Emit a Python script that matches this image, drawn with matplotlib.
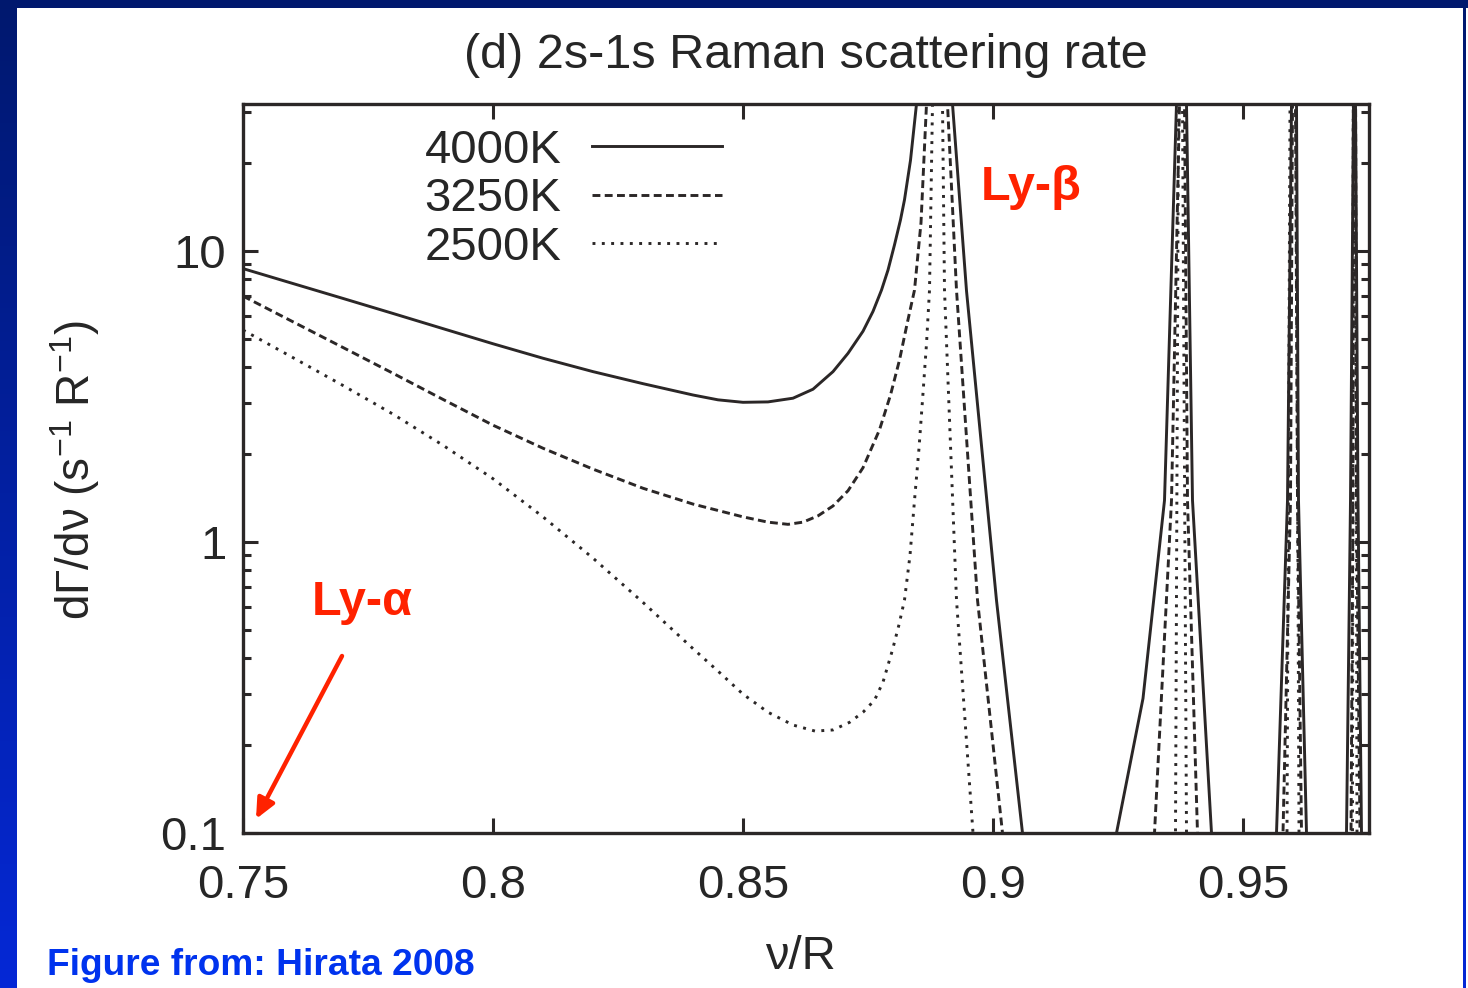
import numpy as np
import matplotlib
matplotlib.use("Agg")
import matplotlib.pyplot as plt
from matplotlib.lines import Line2D

plt.rcParams['font.family'] = ['Liberation Sans', 'DejaVu Sans']
plt.rcParams['mathtext.fontset'] = 'custom'
plt.rcParams['mathtext.rm'] = 'Liberation Sans'
plt.rcParams['mathtext.it'] = 'Liberation Sans:italic'
plt.rcParams['mathtext.bf'] = 'Liberation Sans:bold'

# ---------------- data ----------------
nu_4000 = [0.750, 0.760, 0.770, 0.780, 0.790, 0.800, 0.810, 0.820, 0.830, 0.840,
           0.845, 0.850, 0.855, 0.860, 0.864, 0.868, 0.871, 0.874, 0.876, 0.8777,
           0.879, 0.8803, 0.8815, 0.8823, 0.8835, 0.8847,
           0.8889, 0.8919, 0.8947, 0.9007, 0.9059, 0.915,
           0.9247, 0.9300, 0.9343, 0.9367, 0.9375, 0.9387, 0.9399, 0.9437, 0.950,
           0.9567, 0.9589, 0.9597, 0.9600, 0.9607, 0.9611, 0.9627, 0.966,
           0.9707, 0.9715, 0.9721, 0.9722, 0.9725, 0.9730, 0.9737, 0.975]
rate_4000 = [8.70, 7.73, 6.87, 6.10, 5.41, 4.80, 4.28, 3.85, 3.50, 3.20,
             3.08, 3.02, 3.03, 3.12, 3.35, 3.85, 4.45, 5.30, 6.20, 7.34,
             8.6, 10.5, 12.8, 15.0, 20.5, 32.0,
             1e4, 32.0, 7.3, 0.63, 0.1, 0.01,
             0.1, 0.29, 1.39, 32.0, 1e4, 32.0, 1.39, 0.1, 0.01,
             0.1, 1.39, 32.0, 1e4, 32.0, 1.39, 0.1, 0.01,
             0.1, 1.39, 32.0, 1e4, 32.0, 1.39, 0.1, 0.02]

nu_3250 = [0.750, 0.760, 0.770, 0.780, 0.790, 0.800, 0.810, 0.820, 0.830, 0.840,
           0.850, 0.855, 0.859, 0.862, 0.865, 0.868, 0.871, 0.874, 0.8773, 0.8795,
           0.8813, 0.8828, 0.8843, 0.8856, 0.8867,
           0.8889, 0.8909, 0.8927, 0.8969, 0.9019, 0.915,
           0.9323, 0.9357, 0.9373, 0.9375, 0.9383, 0.9389, 0.9409, 0.950,
           0.9580, 0.9595, 0.9599, 0.9600, 0.9605, 0.9609, 0.9617, 0.966,
           0.9716, 0.9720, 0.9722, 0.9727, 0.9734, 0.975]
rate_3250 = [7.00, 5.71, 4.66, 3.80, 3.09, 2.52, 2.10, 1.78, 1.53, 1.35,
             1.22, 1.17, 1.15, 1.17, 1.23, 1.33, 1.50, 1.80, 2.43, 3.20,
             4.22, 5.60, 7.34, 12.5, 32.0,
             1e4, 32.0, 7.34, 0.632, 0.1, 0.01,
             0.1, 1.39, 32.0, 1e4, 32.0, 1.39, 0.1, 0.01,
             0.1, 1.39, 32.0, 1e4, 32.0, 1.39, 0.1, 0.01,
             0.1, 1.39, 1e4, 1.39, 0.1, 0.02]

nu_2500 = [0.750, 0.760, 0.770, 0.780, 0.790, 0.800, 0.810, 0.820, 0.830, 0.840,
           0.845, 0.850, 0.855, 0.860, 0.8644, 0.868, 0.8713, 0.874, 0.8763, 0.878,
           0.8799, 0.8812, 0.8823, 0.8834, 0.8843, 0.8852, 0.8859, 0.8867, 0.8873, 0.8879,
           0.8889, 0.8899, 0.8903, 0.8927, 0.8960, 0.915,
           0.9365, 0.9371, 0.9375, 0.9379, 0.9387, 0.950,
           0.9588, 0.9600, 0.9612, 0.966,
           0.9719, 0.9722, 0.9728, 0.975]
rate_2500 = [5.35, 4.30, 3.45, 2.75, 2.15, 1.65, 1.22, 0.88, 0.62, 0.43,
             0.36, 0.30, 0.26, 0.235, 0.224, 0.226, 0.240, 0.26, 0.286, 0.33,
             0.426, 0.52, 0.632, 0.90, 1.39, 2.1, 3.07, 4.8, 7.34, 32.0,
             1e4, 32.0, 7.34, 0.632, 0.1, 0.01,
             0.1, 32.0, 1e4, 32.0, 0.1, 0.01,
             0.1, 1e4, 0.1, 0.01,
             0.1, 1e4, 0.1, 0.02]

labels = ['4000K', '3250K', '2500K']
x_ticks = [0.75, 0.80, 0.85, 0.90, 0.95]
x_ticklabels = ['0.75', '0.8', '0.85', '0.9', '0.95']
y_ticks = [0.1, 1, 10]
y_ticklabels = ['0.1', '1', '10']

# ---------------- figure ----------------
W, H = 1468, 988
fig = plt.figure(figsize=(W / 100, H / 100), dpi=100)

# slide background: blue frame with white page
bg = fig.add_axes([0, 0, 1, 1])
rows = np.linspace(0, 1, H)[:, None]
top_c = np.array([0, 24, 110]) / 255
bot_c = np.array([5, 40, 214]) / 255
img = np.ones((H, W, 3))
grad = top_c[None, :] * (1 - rows) + bot_c[None, :] * rows
frame = np.repeat(grad[:, None, :], W, axis=1)
mask = np.zeros((H, W), bool)
mask[:9, :] = True
mask[:, :17] = True
mask[:, 1463:1466] = True
img[mask] = frame[mask]
bg.imshow(img, aspect='auto', interpolation='nearest', extent=[0, 1, 0, 1])
bg.set_axis_off()
bg.set_zorder(-10)

ink = '#2b2727'
txt = '#262626'
ax = fig.add_axes([243 / W, 1 - 833 / H, (1369 - 243) / W, (833 - 104) / H])
ax.set_facecolor('none')

lw = 2.1
ls_dash = (0, (2.7, 1.5))
ls_dot = (0, (1.0, 2.2))
ax.plot(nu_4000, rate_4000, color=ink, lw=lw, ls='-')
ax.plot(nu_3250, rate_3250, color=ink, lw=lw, ls=ls_dash)
ax.plot(nu_2500, rate_2500, color=ink, lw=lw, ls=ls_dot)

ax.set_yscale('log')
ax.set_xlim(0.75, 0.9752)
ax.set_ylim(0.1, 32.0)

ax.set_xticks(x_ticks)
ax.set_xticklabels(x_ticklabels)
ax.set_yticks(y_ticks)
ax.set_yticklabels(y_ticklabels)
ax.xaxis.set_minor_locator(matplotlib.ticker.NullLocator())
ax.yaxis.set_minor_locator(matplotlib.ticker.LogLocator(base=10, subs=np.arange(2, 10)))
ax.yaxis.set_minor_formatter(matplotlib.ticker.NullFormatter())

ax.tick_params(which='both', direction='in', top=True, right=True, color=ink,
               labelcolor=txt, labelsize=34)
ax.tick_params(which='major', length=11, width=2.2)
ax.tick_params(which='minor', length=5.5, width=2.2)
ax.tick_params(axis='x', which='major', pad=22)
ax.tick_params(axis='y', which='major', pad=12)
for sp in ax.spines.values():
    sp.set_linewidth(2.4)
    sp.set_color(ink)

ax.set_xlabel('ν/R', fontsize=34, color=txt)
ax.xaxis.set_label_coords((800 - 243) / 1126, (833 - 957) / 729)
ax.xaxis.label.set_va('center')
ax.set_ylabel('dΓ/dν (s$^{-1}$ R$^{-1}$)', fontsize=33, color=txt)
ax.yaxis.set_label_coords((75 - 243) / 1126, (833 - 470) / 729)
ax.yaxis.label.set_va('center')

handles = [Line2D([], [], color=ink, lw=lw, ls='-'),
           Line2D([], [], color=ink, lw=lw, ls=ls_dash),
           Line2D([], [], color=ink, lw=lw, ls=ls_dot)]
leg = ax.legend(handles, labels, loc='upper right', markerfirst=False, frameon=False,
                fontsize=34, handlelength=2.75, handletextpad=0.65, labelspacing=0.09,
                borderaxespad=0, borderpad=0,
                bbox_to_anchor=((722 - 243) / 1126, (833 - 129) / 729))
for t in leg.get_texts():
    t.set_color(txt)

fig.text(806 / W, 1 - 55 / H, '(d) 2s-1s Raman scattering rate', fontsize=35,
         color=txt, ha='center', va='center')

red = '#ff2200'
fig.text(1031 / W, 1 - 188 / H, 'Ly-β', fontsize=35, color=red, fontweight='bold',
         ha='center', va='center')
fig.text(362 / W, 1 - 602 / H, 'Ly-α', fontsize=35, color=red, fontweight='bold',
         ha='center', va='center')
ax.annotate('', xy=((256 - 243) / 1126, (833 - 819) / 729), xycoords='axes fraction',
            xytext=((342 - 243) / 1126, (833 - 656) / 729), textcoords='axes fraction',
            arrowprops=dict(arrowstyle='-|>,head_length=1.2,head_width=0.55', color=red,
                            lw=3.2, shrinkA=0, shrinkB=0))

fig.text(47 / W, 1 - 965 / H, 'Figure from: Hirata 2008', fontsize=26.7, color='#0033ee',
         fontweight='bold', ha='left', va='center')

fig.savefig('out.png', dpi=100)
